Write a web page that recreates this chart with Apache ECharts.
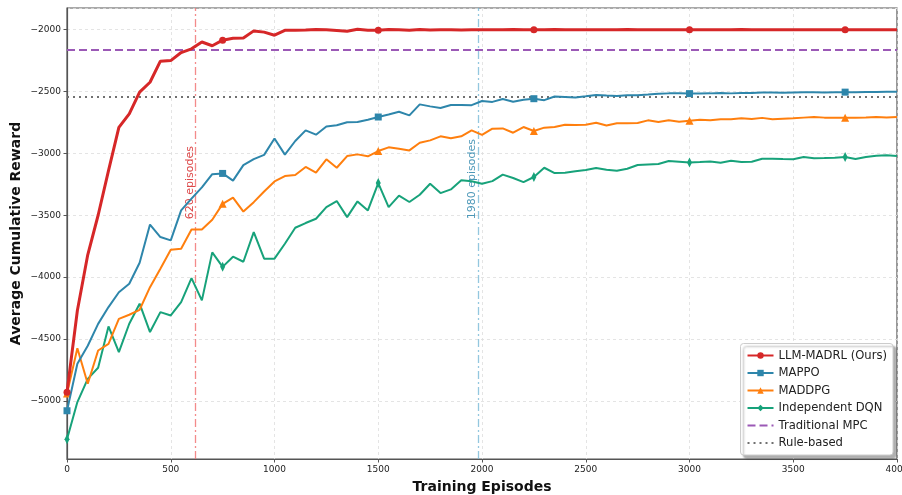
<!DOCTYPE html>
<html lang="en">
<head>
  <meta charset="UTF-8">
  <title>Training curves</title>
  <script src="https://cdn.jsdelivr.net/npm/echarts@6/dist/echarts.min.js"></script>
  <style>
    html, body { margin: 0; padding: 0; background: #fff; }
    #main { width: 902px; height: 495px; }
  </style>
</head>
<body>
  <div id="main"></div>
  <script>
    // episodes 0..4000, every 50
    const episodes = [];
    for (let e = 0; e <= 4000; e += 50) episodes.push(e);

    const llmMadrl = [
      -4930, -4270, -3820, -3500, -3140, -2790, -2680, -2505, -2425, -2255,
      -2250, -2185, -2155, -2100, -2130, -2085, -2070, -2068, -2010, -2020,
      -2045, -2005, -2005, -2002, -1998, -2000, -2006, -2013, -1997, -2004,
      -2005, -1999, -2000, -2004, -1998, -2002, -2000, -2001, -2002, -2000,
      -2001, -2000, -2001, -1999, -2000, -2001, -2000, -1999, -2001, -2000,
      -2000, -2001, -2000, -2000, -1999, -2000, -2001, -2000, -2000, -2000,
      -2000, -2000, -2001, -2000, -2000, -1999, -2000, -2000, -2000, -2001,
      -2000, -2000, -2000, -2000, -2000, -2000, -2000, -2000, -2000, -2000,
      -2000
    ];
    const mappo = [
      -5080, -4700, -4555, -4378, -4242, -4122, -4054, -3884, -3575, -3676,
      -3703, -3461, -3366, -3275, -3168, -3162, -3220, -3095, -3046, -3012,
      -2880, -3010, -2900, -2814, -2849, -2782, -2773, -2748, -2746, -2728,
      -2706, -2685, -2663, -2693, -2604, -2620, -2633, -2609, -2609, -2610,
      -2577, -2584, -2560, -2582, -2566, -2558, -2570, -2540, -2544, -2549,
      -2539, -2528, -2533, -2536, -2531, -2531, -2525, -2518, -2515, -2515,
      -2517, -2517, -2515, -2512, -2515, -2512, -2512, -2508, -2508, -2510,
      -2507, -2506, -2505, -2508, -2506, -2505, -2506, -2503, -2504, -2502,
      -2502
    ];
    const maddpg = [
      -4940, -4575, -4862, -4593, -4539, -4337, -4304, -4264, -4081, -3932,
      -3779, -3771, -3615, -3615, -3537, -3408, -3357, -3470, -3394, -3308,
      -3227, -3183, -3175, -3110, -3156, -3048, -3116, -3022, -3008, -3024,
      -2981, -2951, -2962, -2976, -2914, -2895, -2862, -2878, -2862, -2814,
      -2850, -2800, -2798, -2833, -2787, -2819, -2792, -2787, -2768, -2771,
      -2768, -2752, -2774, -2757, -2757, -2755, -2733, -2746, -2733, -2744,
      -2736, -2728, -2733, -2725, -2725, -2717, -2722, -2713, -2725, -2720,
      -2717, -2711, -2706, -2711, -2711, -2711, -2711, -2709, -2706, -2709,
      -2706
    ];
    const independentDqn = [
      -5310, -5010, -4822, -4733, -4399, -4606, -4377, -4215, -4444, -4283,
      -4310, -4202, -4008, -4188, -3800, -3917, -3835, -3876, -3636, -3851,
      -3851, -3730, -3601, -3563, -3528, -3434, -3385, -3515, -3388, -3461,
      -3240, -3434, -3342, -3393, -3334, -3245, -3321, -3291, -3218, -3226,
      -3245, -3224, -3172, -3199, -3232, -3191, -3116, -3159, -3156, -3145,
      -3135, -3118, -3132, -3140, -3124, -3094, -3089, -3086, -3062, -3067,
      -3073, -3070, -3065, -3075, -3059, -3070, -3067, -3043, -3043, -3046,
      -3048, -3030, -3040, -3038, -3035, -3030, -3046, -3030, -3019, -3016,
      -3022
    ];
    const traditionalMpc = -2165;
    const ruleBased = -2545;
    const convergence = [620, 1980];
    const convergenceLabels = ['620 episodes', '1980 episodes'];
    const labelAt = -3500;

    const FONT = 'DejaVu Sans';
    const markEvery = 15;

    function pts(vals) {
      return vals.map((v, i) => ({
        value: [episodes[i], v],
        symbol: i % markEvery === 0 ? undefined : 'none'
      }));
    }
    const minus = v => String(v).replace('-', '\u2212');
    const noSymbol = { color: 'rgba(0,0,0,0)', borderWidth: 0 };

    const chart = echarts.init(document.getElementById('main'), null, { renderer: 'canvas' });

    const option = {
      animation: false,
      textStyle: { fontFamily: FONT },
      grid: {
        left: 67, right: 5, top: 8, bottom: 36,
        outerBoundsMode: 'none', containLabel: false,
        show: true, borderColor: '#555', borderWidth: 1.2, backgroundColor: '#fff'
      },
      xAxis: {
        type: 'value', min: 0, max: 4000, interval: 500,
        name: 'Training Episodes', nameLocation: 'middle', nameGap: 21,
        nameTextStyle: { fontFamily: FONT, fontSize: 14, fontWeight: 'bold', color: '#111' },
        axisLine: { show: true, lineStyle: { color: '#555', width: 1.2 } },
        axisTick: { show: true, length: 3.5, lineStyle: { color: '#555' } },
        axisLabel: { fontFamily: FONT, fontSize: 9, color: '#222', margin: 6, formatter: v => String(v) },
        splitLine: { show: true, lineStyle: { color: '#dedede', type: [3, 3], width: 0.8 } }
      },
      yAxis: {
        type: 'value', min: -5470, max: -1825, splitNumber: 7,
        name: 'Average Cumulative Reward', nameLocation: 'middle', nameGap: 44,
        nameMoveOverlap: false,
        nameTextStyle: { fontFamily: FONT, fontSize: 14, fontWeight: 'bold', color: '#111' },
        axisLine: { show: true, lineStyle: { color: '#555', width: 1.2 } },
        axisTick: { show: true, length: 3.5, lineStyle: { color: '#555' } },
        axisLabel: {
          fontFamily: FONT, fontSize: 9, color: '#222', margin: 6,
          showMinLabel: false, showMaxLabel: false, formatter: minus
        },
        splitLine: { show: true, lineStyle: { color: '#dedede', type: [3, 3], width: 0.8 } }
      },
      legend: {
        orient: 'vertical', right: 9, bottom: 40,
        itemWidth: 26, itemHeight: 8, itemGap: 3.5,
        padding: [5, 6, 5, 6],
        backgroundColor: '#fff', borderColor: '#ccc', borderWidth: 1, borderRadius: 3,
        shadowColor: 'rgba(0,0,0,0.3)', shadowBlur: 2, shadowOffsetX: 3, shadowOffsetY: 3,
        textStyle: { fontFamily: FONT, fontSize: 11.6, lineHeight: 14, color: '#222' },
        data: [
          'LLM-MADRL (Ours)', 'MAPPO', 'MADDPG', 'Independent DQN',
          { name: 'Traditional MPC', itemStyle: noSymbol },
          { name: 'Rule-based', itemStyle: noSymbol }
        ]
      },
      series: [
        {
          name: 'LLM-MADRL (Ours)', type: 'line', data: pts(llmMadrl), z: 10,
          symbol: 'circle', symbolSize: 7, showAllSymbol: true,
          lineStyle: { color: '#d62728', width: 3 }, itemStyle: { color: '#d62728' },
          markLine: {
            silent: true, symbol: 'none', label: { show: false },
            lineStyle: { color: 'rgba(240,110,110,0.8)', type: [8, 3, 2, 3], width: 1.3 },
            data: [{ xAxis: convergence[0] }]
          },
          markPoint: {
            silent: true, symbol: 'circle', symbolSize: 1,
            itemStyle: { color: 'rgba(0,0,0,0)' },
            label: {
              show: true, position: 'inside', rotate: 90, align: 'left', verticalAlign: 'bottom',
              fontFamily: FONT, fontSize: 11, color: 'rgba(214,39,40,0.85)', offset: [-4, 0],
              formatter: convergenceLabels[0]
            },
            data: [{ coord: [convergence[0], labelAt] }]
          }
        },
        {
          name: 'MAPPO', type: 'line', data: pts(mappo), z: 9,
          symbol: 'rect', symbolSize: 7, showAllSymbol: true,
          lineStyle: { color: '#2e86ab', width: 2 }, itemStyle: { color: '#2e86ab' },
          markLine: {
            silent: true, symbol: 'none', label: { show: false },
            lineStyle: { color: 'rgba(120,185,215,0.8)', type: [8, 3, 2, 3], width: 1.3 },
            data: [{ xAxis: convergence[1] }]
          },
          markPoint: {
            silent: true, symbol: 'circle', symbolSize: 1,
            itemStyle: { color: 'rgba(0,0,0,0)' },
            label: {
              show: true, position: 'inside', rotate: 90, align: 'left', verticalAlign: 'bottom',
              fontFamily: FONT, fontSize: 11, color: 'rgba(46,134,171,0.85)', offset: [-4, 0],
              formatter: convergenceLabels[1]
            },
            data: [{ coord: [convergence[1], labelAt] }]
          }
        },
        {
          name: 'MADDPG', type: 'line', data: pts(maddpg), z: 8,
          symbol: 'triangle', symbolSize: 8, showAllSymbol: true,
          lineStyle: { color: '#ff7f0e', width: 2 }, itemStyle: { color: '#ff7f0e' }
        },
        {
          name: 'Independent DQN', type: 'line', data: pts(independentDqn), z: 7,
          symbol: 'diamond', symbolSize: [5, 10], showAllSymbol: true,
          lineStyle: { color: '#17a27a', width: 2 }, itemStyle: { color: '#17a27a' }
        },
        {
          name: 'Traditional MPC', type: 'line', symbol: 'none', z: 6,
          data: [[0, traditionalMpc], [4000, traditionalMpc]],
          lineStyle: { color: '#9b59b6', width: 2, type: [8, 4] }, itemStyle: { color: '#9b59b6' }
        },
        {
          name: 'Rule-based', type: 'line', symbol: 'none', z: 6,
          data: [[0, ruleBased], [4000, ruleBased]],
          lineStyle: { color: '#707070', width: 2, type: [2, 4] }, itemStyle: { color: '#707070' }
        }
      ]
    };

    chart.setOption(option);
  </script>
</body>
</html>
